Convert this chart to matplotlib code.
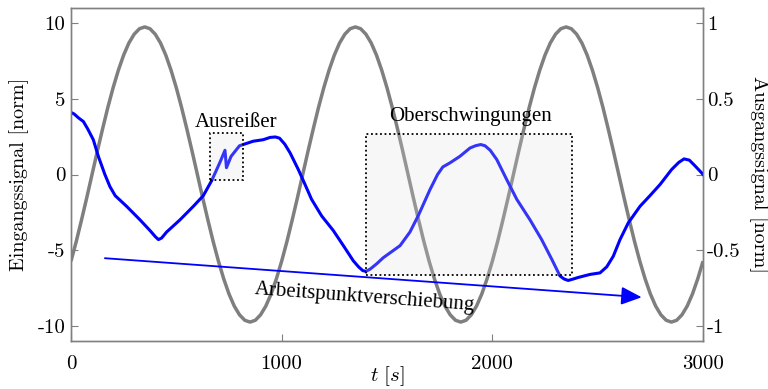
import matplotlib
matplotlib.use("Agg")
import matplotlib.pyplot as plt
from matplotlib.ticker import FixedLocator, FuncFormatter
from matplotlib.patches import Rectangle

plt.rcParams["font.family"] = ["cmr10", "DejaVu Serif"]
plt.rcParams["mathtext.fontset"] = "cm"
plt.rcParams["axes.unicode_minus"] = False
plt.rcParams["axes.formatter.use_mathtext"] = False

# Input excitation (left axis), sampled every 25 s
t_in = [25 * k for k in range(121)]
u_in = [
    -5.73, -4.43, -3.01, -1.53, 0.00, 1.53, 3.01, 4.43, 5.73, 6.89,
    7.89, 8.69, 9.27, 9.63, 9.75, 9.63, 9.27, 8.69, 7.89, 6.89,
    5.73, 4.43, 3.01, 1.53, 0.00, -1.53, -3.01, -4.43, -5.73, -6.89,
    -7.89, -8.69, -9.27, -9.63, -9.75, -9.63, -9.27, -8.69, -7.89, -6.89,
    -5.73, -4.43, -3.01, -1.53, 0.00, 1.53, 3.01, 4.43, 5.73, 6.89,
    7.89, 8.69, 9.27, 9.63, 9.75, 9.63, 9.27, 8.69, 7.89, 6.89,
    5.73, 4.43, 3.01, 1.53, 0.00, -1.53, -3.01, -4.43, -5.73, -6.89,
    -7.89, -8.69, -9.27, -9.63, -9.75, -9.63, -9.27, -8.69, -7.89, -6.89,
    -5.73, -4.43, -3.01, -1.53, 0.00, 1.53, 3.01, 4.43, 5.73, 6.89,
    7.89, 8.69, 9.27, 9.63, 9.75, 9.63, 9.27, 8.69, 7.89, 6.89,
    5.73, 4.43, 3.01, 1.53, 0.00, -1.53, -3.01, -4.43, -5.73, -6.89,
    -7.89, -8.69, -9.27, -9.63, -9.75, -9.63, -9.27, -8.69, -7.89, -6.89,
    -5.73,
]

# Measured output (right axis)
t_out = [
    0, 15, 35, 59, 80, 106, 130, 161, 185, 210, 264, 328, 375, 400, 415, 430,
    454, 517, 581, 628, 668, 707, 731, 738, 760, 800, 865, 913, 945, 970,
    990, 1015, 1040, 1079, 1111, 1142, 1190, 1245, 1293, 1340, 1365, 1385,
    1400, 1420, 1451, 1482, 1562, 1609, 1649, 1704, 1740, 1765, 1799, 1846,
    1894, 1920, 1945, 1965, 1990, 2021, 2068, 2116, 2179, 2234, 2282, 2321,
    2340, 2360, 2385, 2408, 2464, 2511, 2543, 2574, 2606, 2645, 2701, 2748,
    2796, 2851, 2885, 2910, 2935, 2960, 2994, 3000,
]
y_out = [
    0.41, 0.40, 0.375, 0.35, 0.30, 0.23, 0.12, 0.00, -0.08, -0.14, -0.21,
    -0.30, -0.37, -0.41, -0.43, -0.42, -0.38, -0.30, -0.21, -0.14, -0.04,
    0.08, 0.16, 0.045, 0.12, 0.19, 0.22, 0.23, 0.245, 0.248, 0.24, 0.20,
    0.143, 0.033, -0.066, -0.164, -0.274, -0.37, -0.47, -0.57, -0.61, -0.635,
    -0.64, -0.625, -0.59, -0.55, -0.47, -0.38, -0.27, -0.10, 0.00, 0.05,
    0.077, 0.12, 0.175, 0.19, 0.198, 0.19, 0.16, 0.099, -0.033, -0.164,
    -0.30, -0.43, -0.56, -0.67, -0.69, -0.70, -0.69, -0.68, -0.66, -0.65,
    -0.61, -0.54, -0.43, -0.32, -0.21, -0.14, -0.066, 0.033, 0.08, 0.103,
    0.095, 0.06, 0.01, 0.00,
]

x_ticks = [0, 1000, 2000, 3000]
left_ticks = [-10, -5, 0, 5, 10]
right_ticks = [-1, -0.5, 0, 0.5, 1]

# Annotation regions on the output axis: (t0, t1, y0, y1)
outlier_box = (660, 816, -0.033, 0.276)
harmonics_box = (1400, 2378, -0.664, 0.270)
# Label positions (t, y) on the output axis
outlier_label = (783, 0.342)
harmonics_label = (1894, 0.38)
drift_label = (1396, -0.816)
# Operating point drift arrow: start and end (t, y)
drift_start = (161, -0.553)
drift_end = (2709, -0.811)

grey = "#808080"
fig = plt.figure(figsize=(7.68, 3.89), dpi=100)
ax1 = fig.add_axes([0.0924, 0.1234, 0.823, 0.856])
ax2 = ax1.twinx()

ax1.plot(t_in, u_in, color="#7f7f7f", lw=2.5, solid_capstyle="butt")
ax2.plot(t_out, y_out, color="#0000ff", lw=2.2, solid_joinstyle="round")

ax1.set_xlim(0, 3000)
ax1.set_ylim(-11, 11)
ax2.set_ylim(-1.1, 1.1)

ax1.xaxis.set_major_locator(FixedLocator(x_ticks))
ax1.yaxis.set_major_locator(FixedLocator(left_ticks))
ax2.yaxis.set_major_locator(FixedLocator(right_ticks))
fmt = FuncFormatter(lambda v, p: "%g" % v)
ax1.xaxis.set_major_formatter(fmt)
ax1.yaxis.set_major_formatter(fmt)
ax2.yaxis.set_major_formatter(fmt)

for ax in (ax1, ax2):
    for sp in ax.spines.values():
        sp.set_color(grey)
        sp.set_linewidth(1.0)
ax1.tick_params(axis="x", direction="in", length=5, color=grey, labelsize=15, pad=10)
ax1.tick_params(axis="y", direction="in", length=5, color=grey, labelsize=15, pad=4)
ax2.tick_params(axis="y", direction="in", length=5, color=grey, labelsize=15, pad=3)

ax1.set_ylabel("Eingangssignal [norm]", fontsize=14.5, labelpad=6)
ax2.set_ylabel("Ausgangssignal [norm]", fontsize=14.5, rotation=270, labelpad=20)
ax1.set_xlabel(r"$t\ [s]$", fontsize=15, labelpad=-6)

serif = ["Liberation Serif", "DejaVu Serif"]
for (x0, x1, y0, y1) in (outlier_box, harmonics_box):
    ax2.add_patch(Rectangle((x0, y0), x1 - x0, y1 - y0, facecolor="#dedede",
                            alpha=0.24, edgecolor="none", zorder=5))
    ax2.add_patch(Rectangle((x0, y0), x1 - x0, y1 - y0, facecolor="none",
                            edgecolor="black", lw=1.3, ls=(0, (1, 1.5)), zorder=6))

ax2.text(*outlier_label, "Ausreißer", family=serif, fontsize=15,
         ha="center", va="center")
ax2.text(*harmonics_label, "Oberschwingungen", family=serif, fontsize=15,
         ha="center", va="center")

ax2.annotate("", xy=drift_end, xytext=drift_start,
             arrowprops=dict(arrowstyle="-|>,head_length=0.5,head_width=0.22",
                             color="#0000ff", lw=1.3, mutation_scale=25,
                             shrinkA=0, shrinkB=0))
ax2.text(*drift_label, "Arbeitspunktverschiebung", family=serif, fontsize=15,
         ha="center", va="center", rotation=-4.2, rotation_mode="anchor")

fig.savefig("out.png", dpi=100)
